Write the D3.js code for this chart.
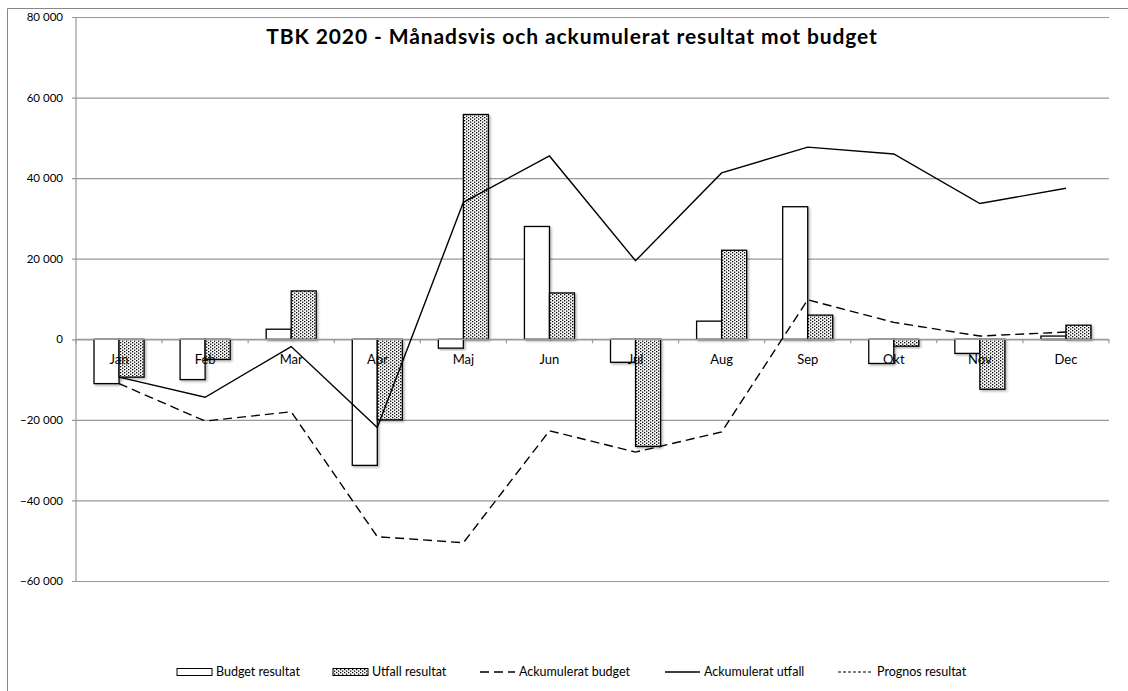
<!DOCTYPE html>
<html><head><meta charset="utf-8">
<script src="https://cdn.jsdelivr.net/npm/d3@7"></script>
<style>body{margin:0;background:#fff}svg{display:block}text{font-family:Lato,"Open Sans",sans-serif}</style>
</head><body><svg id="c" width="1128" height="691"></svg>
<script>
const months = ["Jan","Feb","Mar","Apr","Maj","Jun","Jul","Aug","Sep","Okt","Nov","Dec"];
const budgetResultat = [-11000,-10000,2500,-31300,-2200,28000,-5700,4500,32900,-6000,-3500,800];
const utfallResultat = [-9400,-5000,12000,-20000,55800,11500,-26600,22100,6000,-1700,-12400,3500];
const ackBudget = [-11000,-20300,-18000,-49000,-50500,-22700,-28000,-23000,9800,4200,800,1800];
const ackUtfall = [-9400,-14400,-1800,-21900,34000,45500,19500,41300,47700,46000,33700,37500];
const prognosResultat = [null,null,null,null,null,null,null,null,null,null,null,null];
const yTicks = [-60000,-40000,-20000,0,20000,40000,60000,80000];
const legendLabels = ["Budget resultat","Utfall resultat","Ackumulerat budget","Ackumulerat utfall","Prognos resultat"];
const title = "TBK 2020 - Månadsvis och ackumulerat resultat mot budget";

const svg = d3.select("#c");
const L=76,R=1109,T=17,B=581;
const y = d3.scaleLinear().domain([-60000,80000]).range([B,T]);
const x = d3.scaleBand().domain(months).range([L,R]);
const inner = d3.scaleBand().domain(["b","u"]).range([0,x.bandwidth()]).paddingInner(0).paddingOuter(0.72);

const defs = svg.append("defs");
const pat = defs.append("pattern").attr("id","dots").attr("patternUnits","userSpaceOnUse").attr("width",4).attr("height",3);
pat.append("rect").attr("width",4).attr("height",3).attr("fill","#fff");
pat.append("rect").attr("x",0).attr("y",0).attr("width",1.3).attr("height",1.3).attr("fill","#000");
pat.append("rect").attr("x",2).attr("y",1.5).attr("width",1.3).attr("height",1.3).attr("fill","#000");
const flt = defs.append("filter").attr("id","sh").attr("x","-20%").attr("y","-20%").attr("width","150%").attr("height","150%");
flt.append("feDropShadow").attr("dx",1.5).attr("dy",1.5).attr("stdDeviation",1).attr("flood-color","#000").attr("flood-opacity",0.3);

// outer border
svg.append("path").attr("d","M7.5,691 V8.5 H1128").attr("fill","none").attr("stroke","#888").attr("stroke-width",1);

// gridlines & y axis
const ya = d3.axisLeft(y).tickValues(yTicks).tickSize(-(R-L)).tickPadding(13)
  .tickFormat(d=>d3.format(",")(d).replace(/,/g," "));
const gy = svg.append("g").attr("transform",`translate(${L},0)`).call(ya);
gy.select(".domain").remove();
gy.selectAll(".tick line").attr("stroke","#999").attr("stroke-width",1.2).attr("x2",R-L).attr("x1",-4);
gy.selectAll(".tick text").attr("font-size",11.5).attr("fill","#000");
svg.append("line").attr("x1",L).attr("x2",L).attr("y1",T).attr("y2",B).attr("stroke","#999").attr("stroke-width",1.2);

// bars
const gb = svg.append("g");
months.forEach((m,i)=>{
  [["b",budgetResultat[i],"#fff"],["u",utfallResultat[i],"url(#dots)"]].forEach(([k,v,f])=>{
    gb.append("rect").attr("x",x(m)+inner(k)).attr("width",inner.bandwidth())
      .attr("y",y(Math.max(0,v))).attr("height",Math.abs(y(v)-y(0)))
      .attr("fill",f).attr("stroke","#000").attr("stroke-width",1.3).attr("filter","url(#sh)");
  });
});

// x axis at zero
const xa = d3.axisBottom(x).tickSize(0).tickPadding(15);
const gx = svg.append("g").attr("transform",`translate(0,${y(0)})`).call(xa);
gx.select(".domain").remove();
gx.selectAll(".tick text").attr("font-size",13).attr("fill","#000");
svg.append("line").attr("x1",L).attr("x2",R).attr("y1",y(0)).attr("y2",y(0)).attr("stroke","#999").attr("stroke-width",1.2);
svg.append("g").selectAll("line").data(d3.range(months.length+1)).join("line")
  .attr("x1",i=>L+i*x.step()).attr("x2",i=>L+i*x.step()).attr("y1",y(0)).attr("y2",y(0)+4)
  .attr("stroke","#999").attr("stroke-width",1.2);

// lines
const line = d3.line().defined(d=>d.v!=null).x(d=>x(d.m)+x.bandwidth()/2).y(d=>y(d.v));
svg.append("path").datum(months.map((m,i)=>({m,v:ackBudget[i]}))).attr("d",line)
  .attr("fill","none").attr("stroke","#000").attr("stroke-width",1.4).attr("stroke-dasharray","9,5");
svg.append("path").datum(months.map((m,i)=>({m,v:ackUtfall[i]}))).attr("d",line)
  .attr("fill","none").attr("stroke","#000").attr("stroke-width",1.4);
svg.append("path").datum(months.map((m,i)=>({m,v:prognosResultat[i]}))).attr("d",line)
  .attr("fill","none").attr("stroke","#000").attr("stroke-width",1.2).attr("stroke-dasharray","3,2");

// title
svg.append("text").attr("x",572).attr("y",44).attr("text-anchor","middle")
  .attr("font-size",21).attr("font-weight","bold").attr("letter-spacing",0.9).attr("fill","#000").text(title);

// legend
const lx = [177,333,480,665,838];
const ly = 672;
const lg = svg.append("g");
legendLabels.forEach((lab,i)=>{
  const x0 = lx[i];
  if(i<2){
    lg.append("rect").attr("x",x0).attr("y",ly-3.5).attr("width",35).attr("height",7)
      .attr("fill",i==0?"#fff":"url(#dots)").attr("stroke","#000").attr("stroke-width",1);
  } else {
    lg.append("line").attr("x1",x0).attr("x2",x0+35).attr("y1",ly).attr("y2",ly)
      .attr("stroke","#000").attr("stroke-width",i==4?1.2:1.4)
      .attr("stroke-dasharray",i==2?"9,5":i==4?"3,2":null);
  }
  lg.append("text").attr("x",x0+39).attr("y",ly+4).attr("font-size",12.5).attr("fill","#000").text(lab);
});
</script></body></html>
